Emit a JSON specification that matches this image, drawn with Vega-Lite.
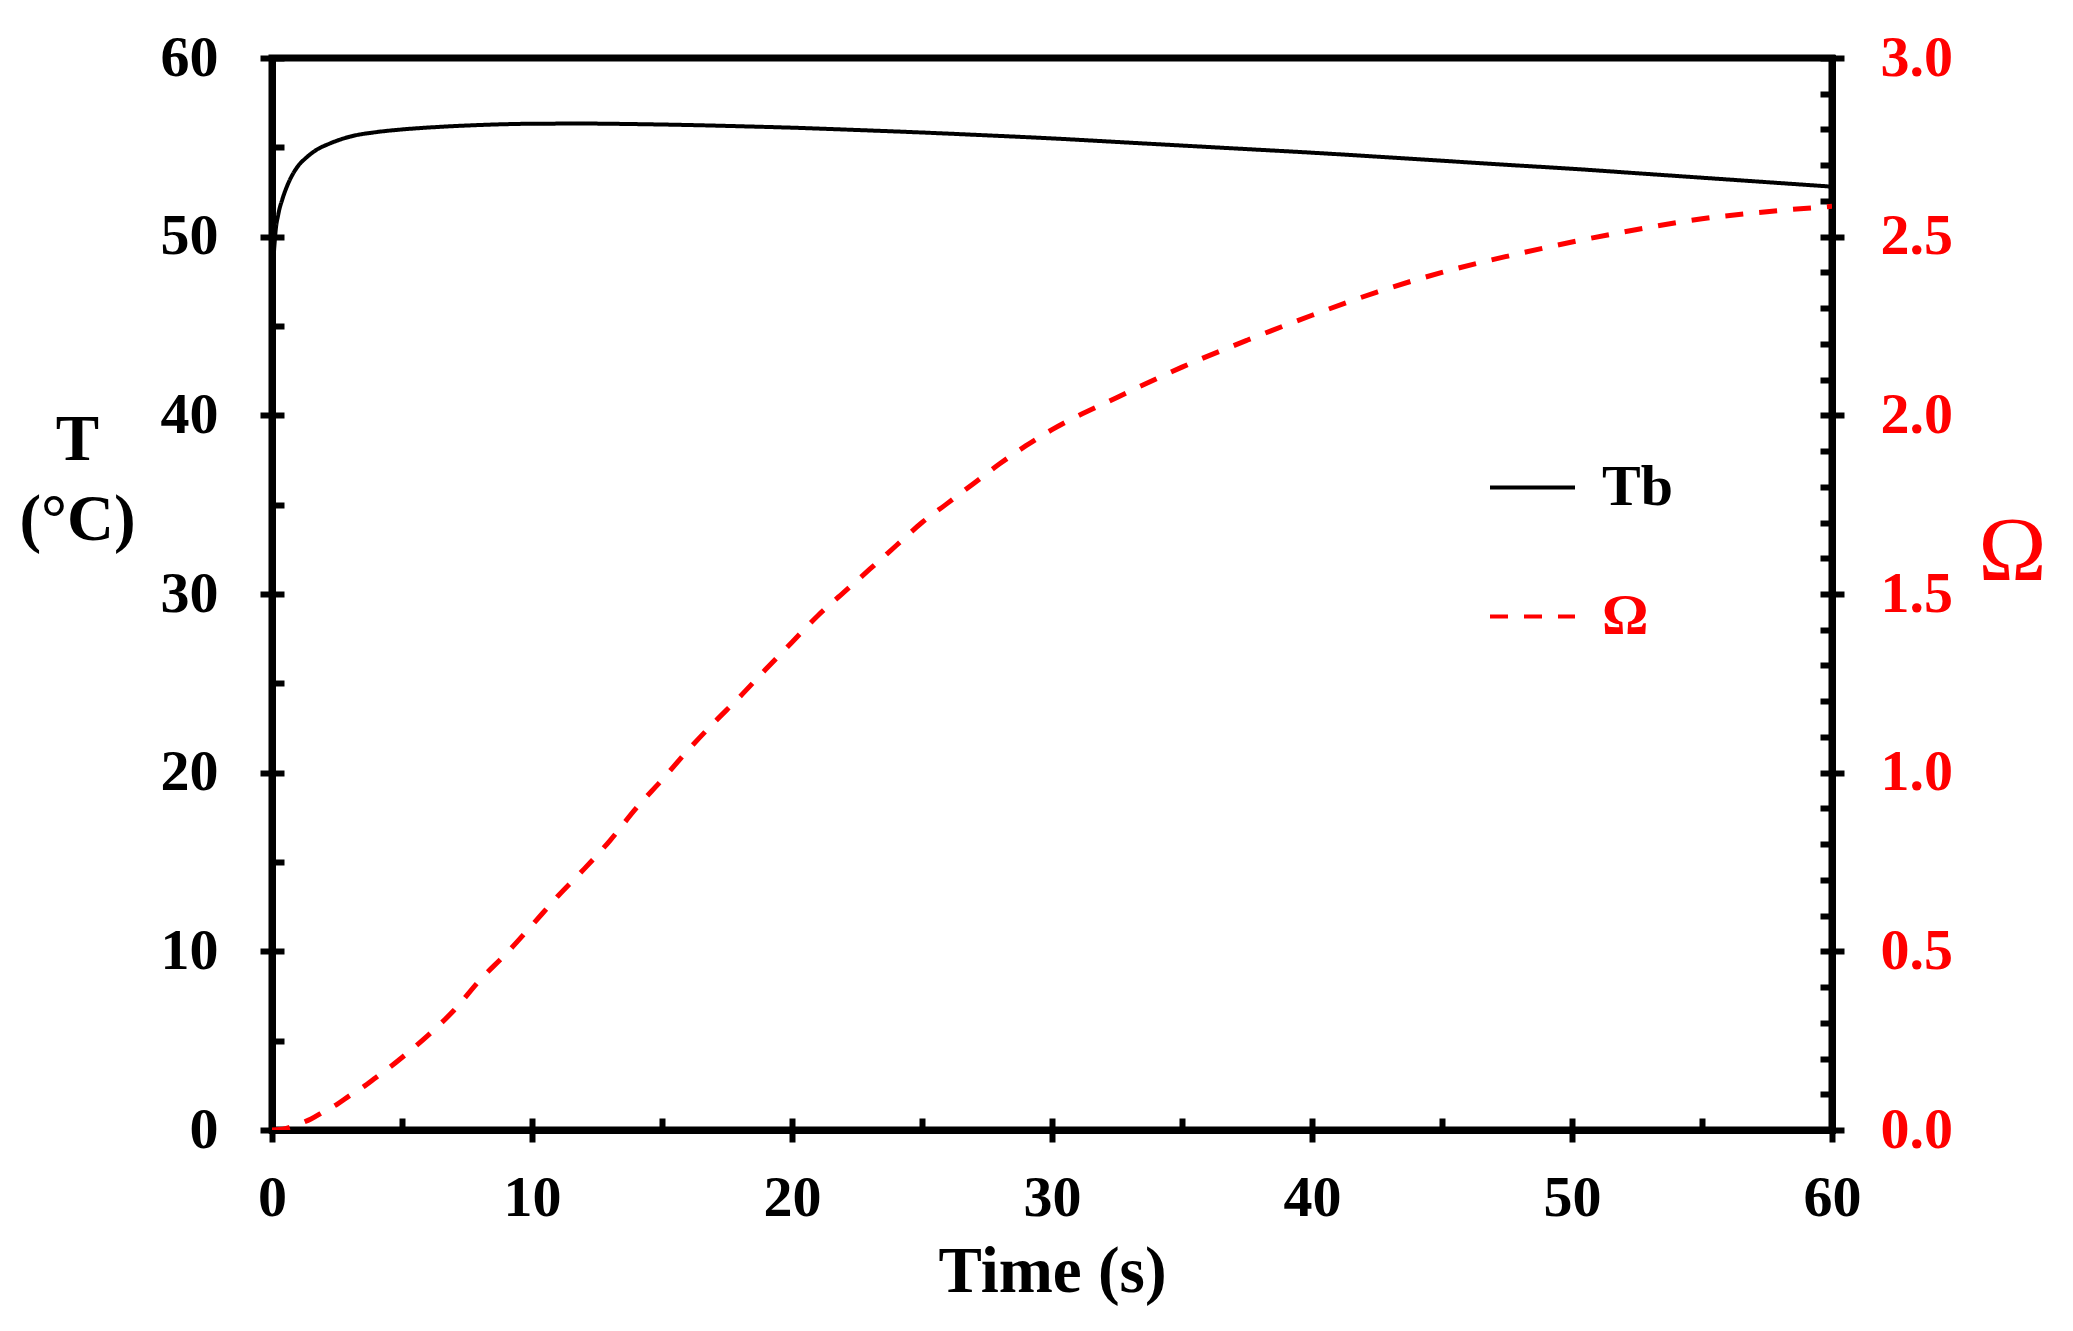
{
  "$schema": "https://vega.github.io/schema/vega-lite/v6.json",
  "width": 1560,
  "height": 1072,
  "autosize": {"type": "none"},
  "padding": {"left": 272, "top": 58, "right": 241, "bottom": 201},
  "background": "white",
  "config": {
    "view": {"stroke": "black", "strokeWidth": 7},
    "font": "Liberation Serif",
    "axis": {
      "labelFont": "Liberation Serif", "labelFontWeight": "bold", "labelFontSize": 58, "labelColor": "black",
      "titleFont": "Liberation Serif", "titleFontWeight": "bold", "titleFontSize": 65, "titleColor": "black",
      "domainColor": "black", "domainWidth": 7, "domainCap": "square",
      "tickColor": "black", "tickWidth": 6, "tickSize": 12, "tickCap": "butt",
      "grid": false, "labelOverlap": false, "labelFlush": false
    }
  },
  "datasets": {
    "tb": [
      {"t": 0, "T": 45.5}, {"t": 0.05, "T": 48.3}, {"t": 0.12, "T": 50.0}, {"t": 0.25, "T": 51.3},
      {"t": 0.4, "T": 52.1}, {"t": 0.6, "T": 52.9}, {"t": 0.8, "T": 53.5}, {"t": 1.0, "T": 53.95},
      {"t": 1.3, "T": 54.4}, {"t": 1.7, "T": 54.85}, {"t": 2.2, "T": 55.2}, {"t": 3, "T": 55.6},
      {"t": 4, "T": 55.85}, {"t": 5, "T": 56.0}, {"t": 6.5, "T": 56.15}, {"t": 8, "T": 56.25},
      {"t": 10, "T": 56.32}, {"t": 12, "T": 56.33}, {"t": 14, "T": 56.3}, {"t": 16, "T": 56.25},
      {"t": 18, "T": 56.18}, {"t": 20, "T": 56.1}, {"t": 22.5, "T": 55.97}, {"t": 25, "T": 55.83},
      {"t": 27.5, "T": 55.67}, {"t": 30, "T": 55.5}, {"t": 32.5, "T": 55.3}, {"t": 35, "T": 55.1},
      {"t": 37.5, "T": 54.9}, {"t": 40, "T": 54.7}, {"t": 42.5, "T": 54.48}, {"t": 45, "T": 54.25},
      {"t": 47.5, "T": 54.02}, {"t": 50, "T": 53.8}, {"t": 52.5, "T": 53.55}, {"t": 55, "T": 53.3},
      {"t": 57.5, "T": 53.05}, {"t": 60, "T": 52.8}
    ],
    "omega": [
      {"t": 0, "Omega": 0}, {"t": 0.5, "Omega": 0.004}, {"t": 1, "Omega": 0.016}, {"t": 1.5, "Omega": 0.031},
      {"t": 2, "Omega": 0.052}, {"t": 2.5, "Omega": 0.072}, {"t": 3, "Omega": 0.097}, {"t": 3.5, "Omega": 0.12},
      {"t": 4, "Omega": 0.147}, {"t": 4.5, "Omega": 0.174}, {"t": 5, "Omega": 0.203}, {"t": 6, "Omega": 0.265},
      {"t": 7, "Omega": 0.335}, {"t": 8, "Omega": 0.42}, {"t": 9, "Omega": 0.493}, {"t": 10, "Omega": 0.573},
      {"t": 11, "Omega": 0.655}, {"t": 12, "Omega": 0.73}, {"t": 13, "Omega": 0.81}, {"t": 14, "Omega": 0.9},
      {"t": 15, "Omega": 0.98}, {"t": 16, "Omega": 1.063}, {"t": 17, "Omega": 1.14}, {"t": 18, "Omega": 1.213},
      {"t": 19, "Omega": 1.29}, {"t": 20, "Omega": 1.365}, {"t": 21, "Omega": 1.44}, {"t": 22, "Omega": 1.505},
      {"t": 23, "Omega": 1.57}, {"t": 24, "Omega": 1.635}, {"t": 25, "Omega": 1.7}, {"t": 26, "Omega": 1.755},
      {"t": 27, "Omega": 1.81}, {"t": 28, "Omega": 1.865}, {"t": 29, "Omega": 1.915}, {"t": 30, "Omega": 1.96},
      {"t": 32.5, "Omega": 2.05}, {"t": 35, "Omega": 2.135}, {"t": 37.5, "Omega": 2.21}, {"t": 40, "Omega": 2.28},
      {"t": 42.5, "Omega": 2.345}, {"t": 45, "Omega": 2.4}, {"t": 47.5, "Omega": 2.445}, {"t": 50, "Omega": 2.485},
      {"t": 52.5, "Omega": 2.52}, {"t": 55, "Omega": 2.55}, {"t": 57.5, "Omega": 2.57}, {"t": 60, "Omega": 2.585}
    ]
  },
  "layer": [
    {
      "data": {"name": "tb"},
      "layer": [
        {
          "mark": {"type": "line", "strokeOpacity": 0},
          "encoding": {
            "x": {
              "field": "t", "type": "quantitative",
              "scale": {"domain": [0, 60], "nice": false},
              "axis": {
                "orient": "bottom", "values": [0, 5, 10, 15, 20, 25, 30, 35, 40, 45, 50, 55, 60],
                "tickSize": -12, "labels": false, "domain": false, "title": null
              }
            },
            "y": {
              "field": "T", "type": "quantitative",
              "scale": {"domain": [0, 60], "nice": false},
              "axis": {
                "orient": "left", "values": [0, 5, 10, 15, 20, 25, 30, 35, 40, 45, 50, 55, 60],
                "tickSize": -12, "labels": false, "domain": false, "title": null
              }
            }
          }
        },
        {
          "mark": {"type": "line", "strokeWidth": 4, "interpolate": "monotone", "clip": true},
          "encoding": {
            "x": {
              "field": "t", "type": "quantitative",
              "scale": {"domain": [0, 60], "nice": false},
              "axis": {
                "orient": "bottom", "values": [0, 10, 20, 30, 40, 50, 60],
                "labelPadding": 27,
                "title": "Time (s)",
                "titleX": 780, "titleY": 161, "titleAlign": "center", "titleBaseline": "alphabetic"
              }
            },
            "y": {
              "field": "T", "type": "quantitative",
              "scale": {"domain": [0, 60], "nice": false},
              "axis": {
                "orient": "left", "values": [0, 10, 20, 30, 40, 50, 60],
                "labelPadding": 42,
                "title": ["T", "(°C)"],
                "titleAngle": 0, "titleX": -195, "titleY": 381, "titleAlign": "center", "titleBaseline": "middle",
                "titleLineHeight": 80
              }
            },
            "color": {
              "datum": "Tb", "type": "nominal",
              "scale": {"domain": ["Tb", "Ω"], "range": ["black", "red"]},
              "legend": {
                "orient": "none", "legendX": 1216, "legendY": 385, "title": null,
                "symbolType": "stroke", "symbolSize": 7225, "symbolStrokeWidth": 4,
                "labelFont": "Liberation Serif", "labelFontWeight": "bold", "labelFontSize": 58,
                "labelOffset": 25, "rowPadding": 55, "padding": 0,
                "encode": {"labels": {"update": {"fill": {"signal": "datum.value === 'Ω' ? 'red' : 'black'"}}}}
              }
            },
            "strokeDash": {
              "datum": "Tb", "type": "nominal",
              "scale": {"domain": ["Tb", "Ω"], "range": [[1, 0], [18, 16]]},
              "legend": {
                "orient": "none", "legendX": 1216, "legendY": 385, "title": null,
                "symbolType": "stroke", "symbolSize": 7225, "symbolStrokeWidth": 4,
                "labelFont": "Liberation Serif", "labelFontWeight": "bold", "labelFontSize": 58,
                "labelOffset": 25, "rowPadding": 55, "padding": 0,
                "encode": {"labels": {"update": {"fill": {"signal": "datum.value === 'Ω' ? 'red' : 'black'"}}}}
              }
            }
          }
        }
      ],
      "resolve": {"axis": {"x": "independent", "y": "independent"}}
    },
    {
      "data": {"name": "omega"},
      "layer": [
        {
          "mark": {"type": "line", "strokeOpacity": 0},
          "encoding": {
            "x": {"field": "t", "type": "quantitative", "axis": null},
            "y": {
              "field": "Omega", "type": "quantitative",
              "scale": {"domain": [0, 3], "nice": false},
              "axis": {
                "orient": "right",
                "values": [0, 0.1, 0.2, 0.3, 0.4, 0.5, 0.6, 0.7, 0.8, 0.9, 1.0, 1.1, 1.2, 1.3, 1.4, 1.5, 1.6, 1.7, 1.8, 1.9, 2.0, 2.1, 2.2, 2.3, 2.4, 2.5, 2.6, 2.7, 2.8, 2.9, 3.0],
                "tickSize": -12, "labels": false, "domain": false, "title": null
              }
            }
          }
        },
        {
          "mark": {"type": "line", "strokeWidth": 5, "interpolate": "monotone", "clip": true},
          "encoding": {
            "x": {"field": "t", "type": "quantitative", "axis": null},
            "y": {
              "field": "Omega", "type": "quantitative",
              "scale": {"domain": [0, 3], "nice": false},
              "axis": {
                "orient": "right",
                "values": [0, 0.5, 1.0, 1.5, 2.0, 2.5, 3.0],
                "format": ".1f",
                "labelPadding": 36,
                "labelColor": "red",
                "title": "Ω",
                "titleColor": "red", "titleFontWeight": "normal", "titleFontSize": 92,
                "titleAngle": 0, "titleX": 180, "titleY": 493, "titleAlign": "center", "titleBaseline": "middle"
              }
            },
            "color": {"datum": "Ω", "type": "nominal"},
            "strokeDash": {"datum": "Ω", "type": "nominal"}
          }
        }
      ],
      "resolve": {"axis": {"y": "independent"}}
    }
  ],
  "resolve": {"scale": {"y": "independent"}, "axis": {"x": "independent"}}
}
